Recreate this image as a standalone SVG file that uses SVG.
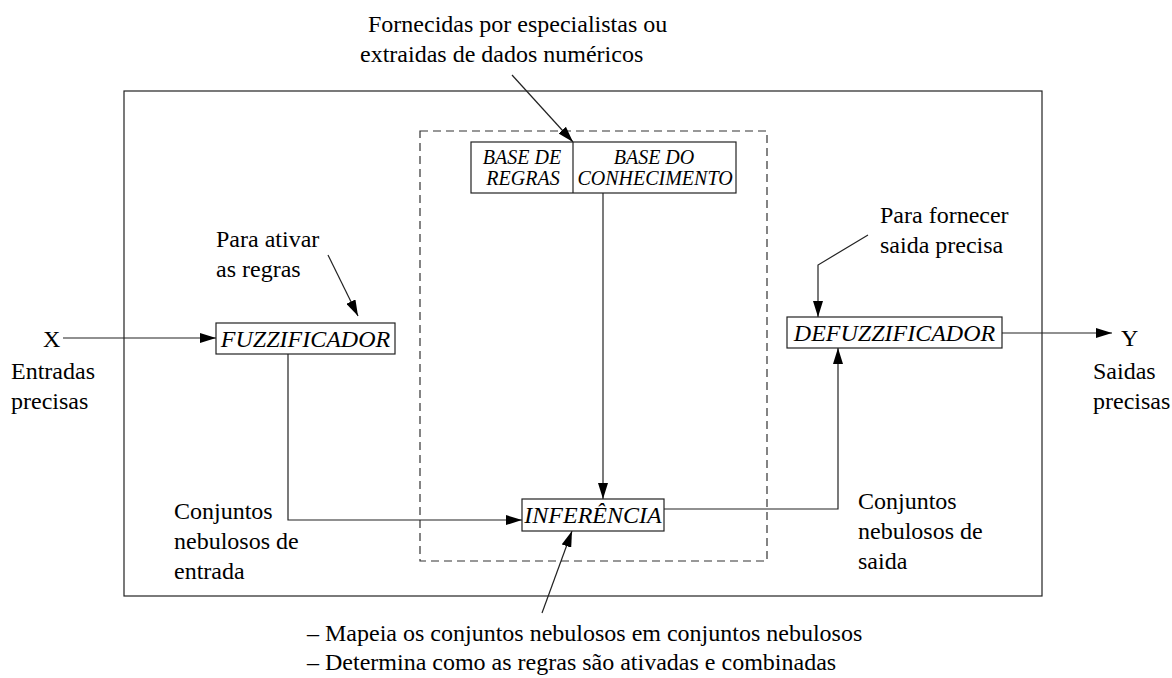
<svg xmlns="http://www.w3.org/2000/svg" width="1172" height="678" viewBox="0 0 1172 678">
<style>
text{font-family:"Liberation Serif","Times New Roman",serif;fill:#000;font-size:24px}
.it{font-style:italic}
.sm{font-size:20px}
.bx{fill:#fff;stroke:#222;stroke-width:1.2}
.ln{fill:none;stroke:#222;stroke-width:1.2}
.dash{fill:none;stroke:#333;stroke-width:1.2;stroke-dasharray:8 5}
</style>
<defs>
<marker id="ah" viewBox="0 0 16 10" refX="16" refY="5" markerWidth="16" markerHeight="10" markerUnits="userSpaceOnUse" orient="auto">
<path d="M0,0 L16,5 L0,10 Z" fill="#000"/>
</marker>
</defs>
<rect x="0" y="0" width="1172" height="678" fill="#fff"/>
<g id="frame">
<rect x="124" y="91" width="918" height="505" class="ln"/>
<rect x="420" y="131" width="347" height="430" class="dash"/>
</g>
<g id="connectors">
<line x1="512" y1="75" x2="573" y2="142" class="ln" marker-end="url(#ah)"/>
<line x1="603" y1="193" x2="603" y2="499" class="ln" marker-end="url(#ah)"/>
<line x1="328" y1="255" x2="358" y2="316" class="ln" marker-end="url(#ah)"/>
<line x1="63" y1="338" x2="216" y2="338" class="ln" marker-end="url(#ah)"/>
<polyline points="288,354 288,520 522,520" class="ln" marker-end="url(#ah)"/>
<polyline points="664,509 838,509 838,348" class="ln" marker-end="url(#ah)"/>
<polyline points="868,235 818,265 818,317" class="ln" marker-end="url(#ah)"/>
<line x1="1002" y1="333" x2="1112" y2="333" class="ln" marker-end="url(#ah)"/>
<line x1="542" y1="613" x2="572" y2="531" class="ln" marker-end="url(#ah)"/>
</g>
<g id="base">
<rect x="471" y="142" width="265" height="51" class="bx"/>
<line x1="573" y1="142" x2="573" y2="193" class="ln"/>
<text class="it sm" x="522" y="164" text-anchor="middle">BASE DE</text>
<text class="it sm" x="523" y="185" text-anchor="middle">REGRAS</text>
<text class="it sm" x="654" y="164" text-anchor="middle">BASE DO</text>
<text class="it sm" x="655" y="185" text-anchor="middle">CONHECIMENTO</text>
</g>
<g id="fuzzificador">
<rect x="216" y="323" width="179" height="31" class="bx"/>
<text class="it" x="305.5" y="347" text-anchor="middle">FUZZIFICADOR</text>
</g>
<g id="inferencia">
<rect x="522" y="499" width="142" height="32" class="bx"/>
<text class="it" x="593" y="523" text-anchor="middle">INFERÊNCIA</text>
</g>
<g id="defuzzificador">
<rect x="787" y="317" width="215" height="31" class="bx"/>
<text class="it" x="894.5" y="341" text-anchor="middle">DEFUZZIFICADOR</text>
</g>
<g id="labels">
<text x="368" y="32">Fornecidas por especialistas ou</text>
<text x="360" y="62">extraidas de dados numéricos</text>
<text x="216" y="247">Para ativar</text>
<text x="216" y="277">as regras</text>
<text x="43" y="347">X</text>
<text x="11" y="379">Entradas</text>
<text x="11" y="409">precisas</text>
<text x="174" y="519">Conjuntos</text>
<text x="174" y="549">nebulosos de</text>
<text x="174" y="579">entrada</text>
<text x="858" y="509">Conjuntos</text>
<text x="858" y="539">nebulosos de</text>
<text x="858" y="569">saida</text>
<text x="880" y="223">Para fornecer</text>
<text x="880" y="253">saida precisa</text>
<text x="1121" y="346">Y</text>
<text x="1093" y="379">Saidas</text>
<text x="1093" y="409">precisas</text>
<text x="307" y="641">– Mapeia os conjuntos nebulosos em conjuntos nebulosos</text>
<text x="307" y="670">– Determina como as regras são ativadas e combinadas</text>
</g>
</svg>
